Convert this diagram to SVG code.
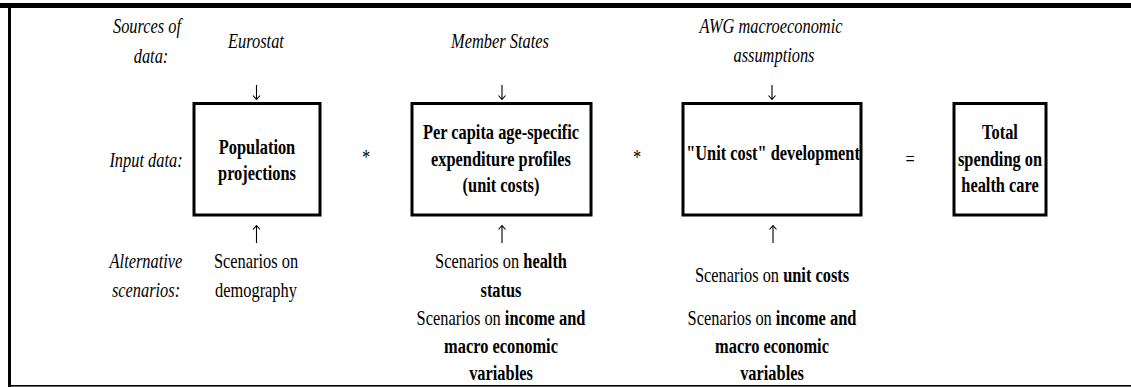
<svg xmlns="http://www.w3.org/2000/svg" width="1131" height="387" viewBox="0 0 1131 387">
<style>
text{font-family:"Liberation Serif","Times New Roman",Times,"DejaVu Serif",serif;font-size:21px;fill:#000;text-anchor:middle}
.it{font-style:italic}
.b,.bt{font-weight:bold}
.box{fill:#fff;stroke:#000;stroke-width:3}
.arr{fill:none;stroke:#000;stroke-width:1.1}
</style>
<rect x="0" y="0" width="1131" height="387" fill="#fff"/>
<g id="frame">
<rect x="0" y="3" width="1131" height="5" fill="#000"/>
<rect x="8" y="3" width="3" height="384" fill="#000"/>
<rect x="8" y="385" width="1123" height="1.6" fill="#000"/>
</g>
<g id="row-labels">
<text class="it" transform="translate(147 33) scale(0.78 1)">Sources of</text>
<text class="it" transform="translate(151 63) scale(0.78 1)">data:</text>
<text class="it" transform="translate(146 167) scale(0.78 1)">Input data:</text>
<text class="it" transform="translate(146 268) scale(0.78 1)">Alternative</text>
<text class="it" transform="translate(146 297) scale(0.78 1)">scenarios:</text>
</g>
<g id="sources">
<text class="it" transform="translate(256 48) scale(0.78 1)">Eurostat</text>
<text class="it" transform="translate(500 48) scale(0.78 1)">Member States</text>
<text class="it" transform="translate(771 33) scale(0.78 1)">AWG macroeconomic</text>
<text class="it" transform="translate(774 62) scale(0.78 1)">assumptions</text>
</g>
<g id="node-population">
<rect class="box" x="194" y="103.5" width="126" height="111.5"/>
<text class="b" transform="translate(257 154) scale(0.78 1)">Population</text>
<text class="b" transform="translate(257 180) scale(0.78 1)">projections</text>
</g>
<g id="node-profiles">
<rect class="box" x="412" y="103.5" width="179" height="111.5"/>
<text class="b" transform="translate(501 139) scale(0.78 1)">Per capita age-specific</text>
<text class="b" transform="translate(501 166) scale(0.78 1)">expenditure profiles</text>
<text class="b" transform="translate(501 192) scale(0.78 1)">(unit costs)</text>
</g>
<g id="node-unitcost">
<rect class="box" x="683" y="103.5" width="178" height="111.5"/>
<text class="b" transform="translate(773 160) scale(0.78 1)">"Unit cost" development</text>
</g>
<g id="node-total">
<rect class="box" x="954" y="103.5" width="92" height="111.5"/>
<text class="b" transform="translate(1000 139) scale(0.78 1)">Total</text>
<text class="b" transform="translate(1000 166) scale(0.78 1)">spending on</text>
<text class="b" transform="translate(1000 192) scale(0.78 1)">health care</text>
</g>
<g id="operators">
<text transform="translate(366 164) scale(0.78 1)">*</text>
<text transform="translate(637 164) scale(0.78 1)">*</text>
<text transform="translate(910 166) scale(0.78 1)">=</text>
</g>
<g id="scenarios">
<text transform="translate(256 268) scale(0.78 1)">Scenarios on</text>
<text transform="translate(256 297) scale(0.78 1)">demography</text>
<text transform="translate(501 268) scale(0.78 1)">Scenarios on <tspan class="bt">health</tspan></text>
<text class="b" transform="translate(501 297) scale(0.78 1)">status</text>
<text transform="translate(501 325) scale(0.78 1)">Scenarios on <tspan class="bt">income and</tspan></text>
<text class="b" transform="translate(501 353) scale(0.78 1)">macro economic</text>
<text class="b" transform="translate(501 380) scale(0.78 1)">variables</text>
<text transform="translate(772 282) scale(0.78 1)">Scenarios on <tspan class="bt">unit costs</tspan></text>
<text transform="translate(772 325) scale(0.78 1)">Scenarios on <tspan class="bt">income and</tspan></text>
<text class="b" transform="translate(772 353) scale(0.78 1)">macro economic</text>
<text class="b" transform="translate(772 380) scale(0.78 1)">variables</text>
</g>
<g id="connectors">
<path class="arr" d="M256.5 85V99.5M253 95.5L256.5 99.5L260 95.5"/>
<path class="arr" d="M502 85V99.5M498.5 95.5L502 99.5L505.5 95.5"/>
<path class="arr" d="M772 85V99.5M768.5 95.5L772 99.5L775.5 95.5"/>
<path class="arr" d="M256.5 243V225.5M253 229.5L256.5 225.5L260 229.5"/>
<path class="arr" d="M502 243V225.5M498.5 229.5L502 225.5L505.5 229.5"/>
<path class="arr" d="M773 243V225.5M769.5 229.5L773 225.5L776.5 229.5"/>
</g>
</svg>
